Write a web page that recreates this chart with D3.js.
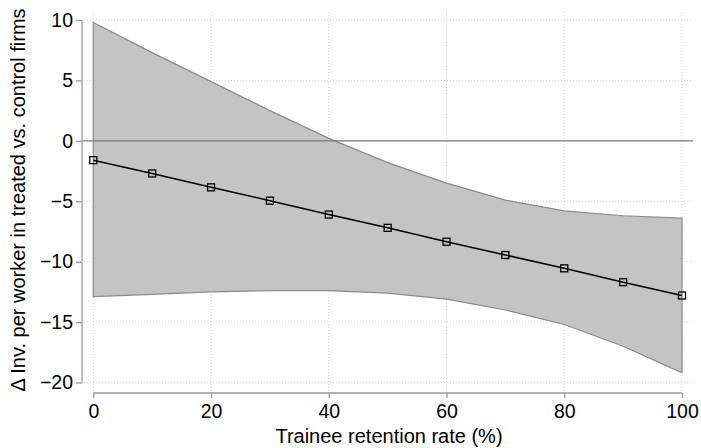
<!DOCTYPE html>
<html>
<head>
<meta charset="utf-8">
<script src="https://cdn.jsdelivr.net/npm/d3@7"></script>
<style>
  body { margin: 0; background: #fff; }
  svg { display: block; font-family: "Liberation Sans", Arial, sans-serif; }
</style>
</head>
<body>
<svg id="chart" width="701" height="448"></svg>
<script>
const retention = [0, 10, 20, 30, 40, 50, 60, 70, 80, 90, 100];
const effect = [-1.6, -2.7, -3.85, -4.95, -6.1, -7.2, -8.35, -9.45, -10.55, -11.7, -12.8];
const upper = [9.8, 7.3, 4.9, 2.5, 0.2, -1.8, -3.5, -4.9, -5.8, -6.2, -6.4];
const lower = [-12.9, -12.7, -12.5, -12.4, -12.4, -12.6, -13.1, -14.0, -15.2, -17.0, -19.2];
const xTicks = [0, 20, 40, 60, 80, 100];
const yTicks = [10, 5, 0, -5, -10, -15, -20];

const svg = d3.select('#chart');
const font = '"Liberation Sans", Arial, sans-serif';

const x = d3.scaleLinear().domain([0, 100]).range([93.3, 682]);
const y = d3.scaleLinear().domain([-20, 10]).range([382.5, 20]);

// grid
const grid = svg.append('g');
grid.selectAll('.gy')
  .data(yTicks)
  .enter().append('line')
  .attr('x1', 84).attr('x2', 693)
  .attr('y1', d => y(d)).attr('y2', d => y(d))
  .attr('stroke', '#d0d0d0').attr('stroke-width', 1)
  .attr('stroke-dasharray', '1,2');
grid.selectAll('.gx')
  .data(xTicks)
  .enter().append('line')
  .attr('x1', d => x(d)).attr('x2', d => x(d))
  .attr('y1', 12).attr('y2', 391)
  .attr('stroke', '#d0d0d0').attr('stroke-width', 1)
  .attr('stroke-dasharray', '1,2');

// confidence band
const rows = retention.map((r, i) => ({ r, m: effect[i], lo: lower[i], hi: upper[i] }));
svg.append('path')
  .datum(rows)
  .attr('d', d3.area().x(d => x(d.r)).y0(d => y(d.lo)).y1(d => y(d.hi)))
  .attr('fill', '#c4c4c4')
  .attr('stroke', '#8a8a8a')
  .attr('stroke-width', 1.2);

// zero line
svg.append('line')
  .attr('x1', 82).attr('x2', 693)
  .attr('y1', y(0)).attr('y2', y(0))
  .attr('stroke', '#7a7a7a').attr('stroke-width', 1.2);

// point estimate line
svg.append('path')
  .datum(rows)
  .attr('d', d3.line().x(d => x(d.r)).y(d => y(d.m)))
  .attr('fill', 'none')
  .attr('stroke', '#000')
  .attr('stroke-width', 1.5);

svg.selectAll('.mk')
  .data(rows)
  .enter().append('rect')
  .attr('x', d => x(d.r) - 3.5).attr('y', d => y(d.m) - 3.5)
  .attr('width', 7).attr('height', 7)
  .attr('fill', 'none')
  .attr('stroke', '#000').attr('stroke-width', 1.3);

// y axis
const yAxis = svg.append('g')
  .attr('transform', 'translate(82,0)')
  .call(d3.axisLeft(y).tickValues(yTicks).tickSize(6).tickPadding(3));
// x axis
const xAxis = svg.append('g')
  .attr('transform', 'translate(0,393)')
  .call(d3.axisBottom(x).tickValues(xTicks).tickSize(5).tickPadding(6));

[yAxis, xAxis].forEach(a => {
  a.select('.domain').attr('stroke', '#9a9a9a').attr('stroke-width', 1.3);
  a.selectAll('.tick line').attr('stroke', '#9a9a9a').attr('stroke-width', 1.3);
  a.selectAll('.tick text')
    .attr('fill', '#000')
    .style('font-size', '19.5px')
    .style('font-family', font);
});
yAxis.select('.domain').attr('d', `M0,${y(10)}V${y(-20)}`);
xAxis.select('.domain').attr('d', `M${x(0)},0H${x(100)}`);

svg.append('text')
  .attr('x', 389).attr('y', 443)
  .attr('text-anchor', 'middle')
  .style('font-size', '20px')
  .style('font-family', font)
  .text('Trainee retention rate (%)');

svg.append('text')
  .attr('transform', 'translate(25,200) rotate(-90)')
  .attr('text-anchor', 'middle')
  .style('font-size', '20px')
  .style('font-family', font)
  .text('Δ Inv. per worker in treated vs. control firms');
</script>
</body>
</html>
